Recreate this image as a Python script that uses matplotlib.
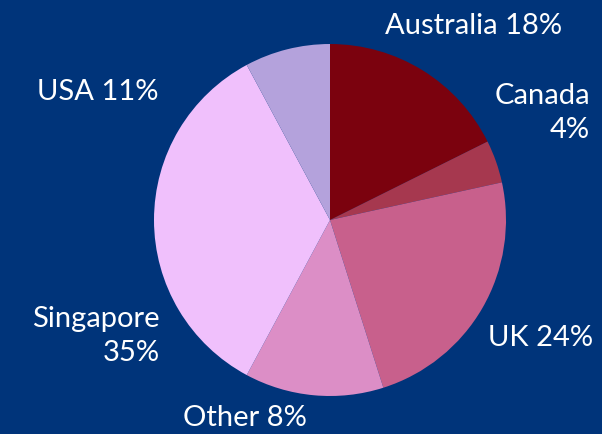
import matplotlib.pyplot as plt

# ---------- data ----------
shares = [18, 4, 24, 13, 35, 8]
labels = ["Australia 18%", "Canada\n4%", "UK 24%", "Other 8%", "Singapore\n35%", "USA 11%"]
colors = ["#7b020e", "#a6384f", "#c8608c", "#dc8ec6", "#f0c0fc", "#b4a2dc"]

# label anchor (data units, pie radius = 1) and alignment
label_pos = [(0.813, 1.10), (1.477, 0.608), (1.199, -0.67),
             (-0.483, -1.125), (-0.966, -0.659), (-1.318, 0.727)]
label_ha = ["center", "right", "center", "center", "right", "center"]

BG = "#00347a"

fig = plt.figure(figsize=(6.02, 4.34), dpi=100)
fig.patch.set_facecolor(BG)

# pie centre at (330, 220) px, radius 176 px
W, H, R = 602, 434, 176
ax = fig.add_axes([(330 - R) / W, (H - 220 - R) / H, 2 * R / W, 2 * R / H])
ax.set_facecolor(BG)

ax.pie(shares, colors=colors, startangle=90, counterclock=False,
       radius=1, wedgeprops=dict(linewidth=0))
ax.set_xlim(-1, 1)
ax.set_ylim(-1, 1)
ax.axis("off")

for txt, (x, y), ha in zip(labels, label_pos, label_ha):
    ax.text(x, y, txt, ha=ha, va="center", multialignment=ha,
            color="white", fontsize=21, family="Lato",
            linespacing=1.4, clip_on=False)

fig.savefig("out.png", dpi=100, facecolor=BG)
